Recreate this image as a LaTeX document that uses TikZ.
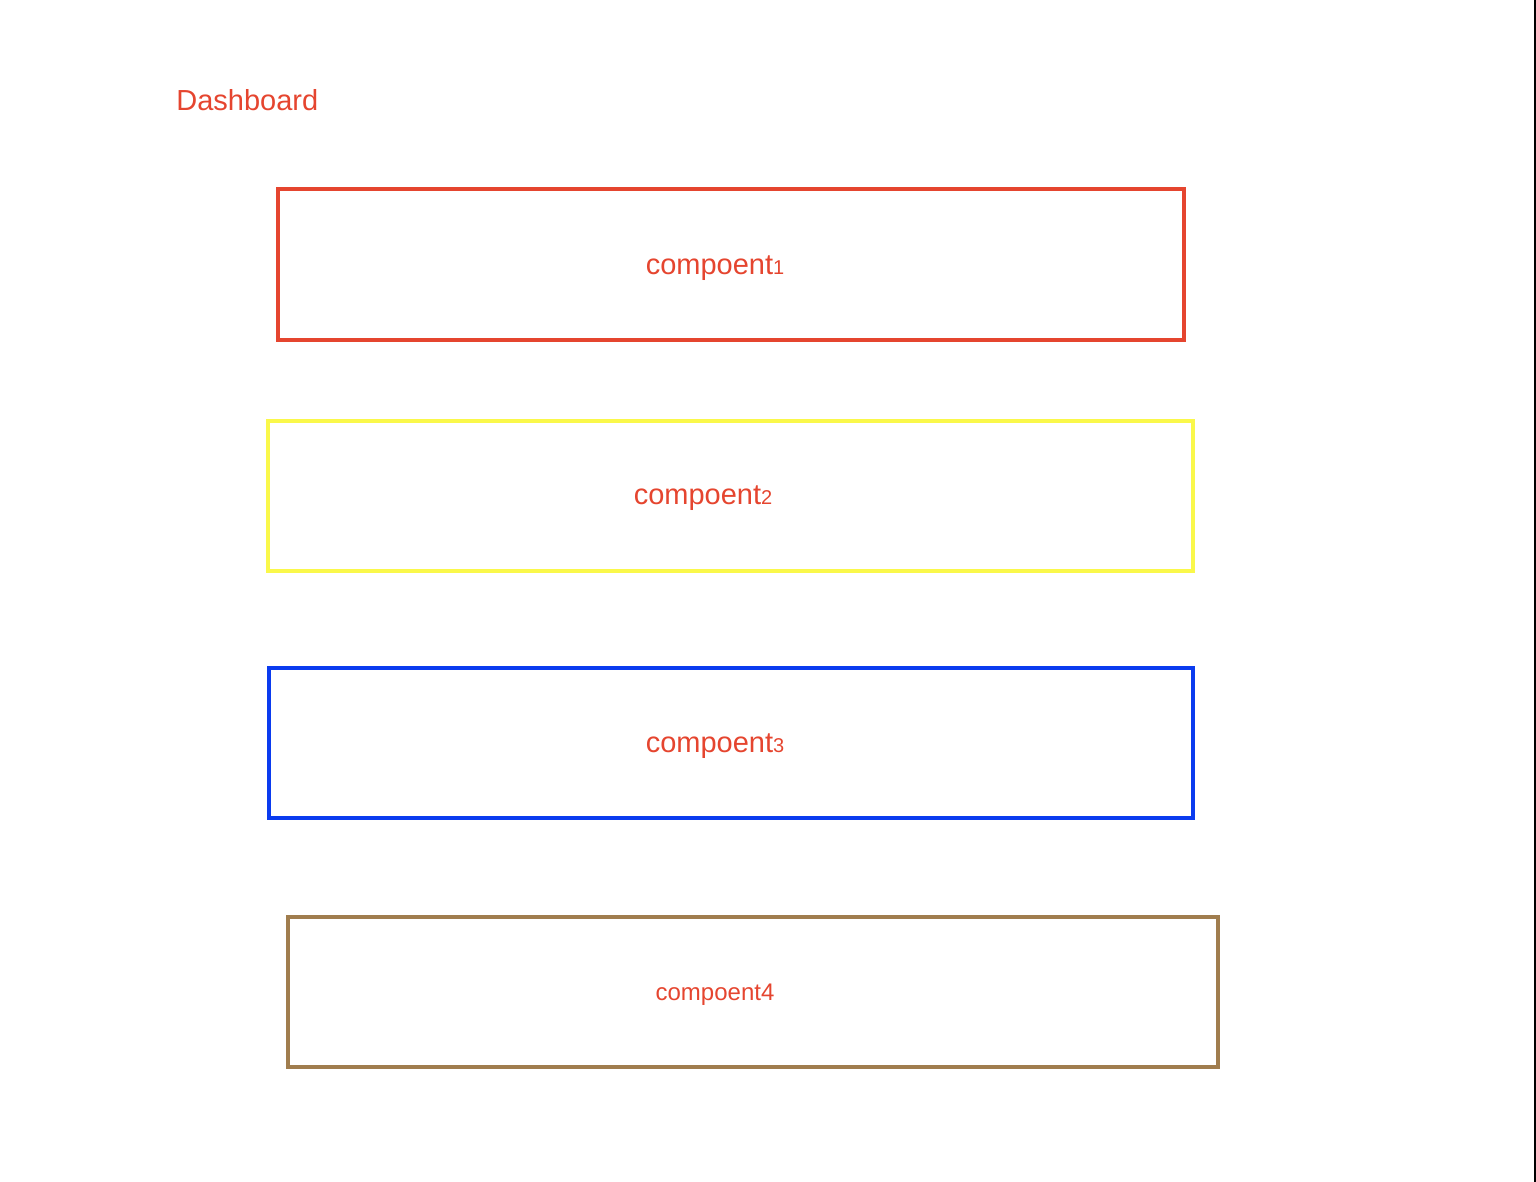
\documentclass[tikz,border=0pt]{standalone}
\usepackage{fontspec}
\setmainfont{Liberation Sans}
\definecolor{dashred}{HTML}{E5452F}
\definecolor{compyellow}{HTML}{FAF84A}
\definecolor{compblue}{HTML}{0A3BEF}
\definecolor{compbrown}{HTML}{A07D4E}
\newcommand{\smalldigit}[1]{{\fontsize{10}{10}\selectfont #1}}
\begin{document}
\begin{tikzpicture}[x=0.5pt, y=-0.5pt, every node/.append style={text=dashred, font=\fontsize{14.5}{16}\selectfont},
	compbox/.style={draw, line width=2pt, inner sep=0pt, minimum width=#1}]
	\useasboundingbox (0,0) rectangle (1536,1182);
	\draw[line width=1pt] (1535,0) coordinate (edgetop) -- (1535,1182) coordinate (edgebot);
	\node[anchor=west, inner sep=0pt] (title) at (176,100) {Dashboard};
	\foreach \n/\x/\y/\w/\c in {1/731/264.5/453pt/dashred, 2/730.5/495.5/462.5pt/compyellow, 3/731/743/462pt/compblue, 4/753/991.5/465pt/compbrown}
	{
		\node[compbox=\w, minimum height=75pt, draw=\c] (box\n) at (\x,\y) {};
	}
	\node (t1) at (715,268) {compoent\smalldigit{1}};
	\node (t2) at (703,498) {compoent\smalldigit{2}};
	\node (t3) at (715,746) {compoent\smalldigit{3}};
	\node[font=\fontsize{12}{14}\selectfont] (t4) at (715,995) {compoent4};
\end{tikzpicture}
\end{document}
